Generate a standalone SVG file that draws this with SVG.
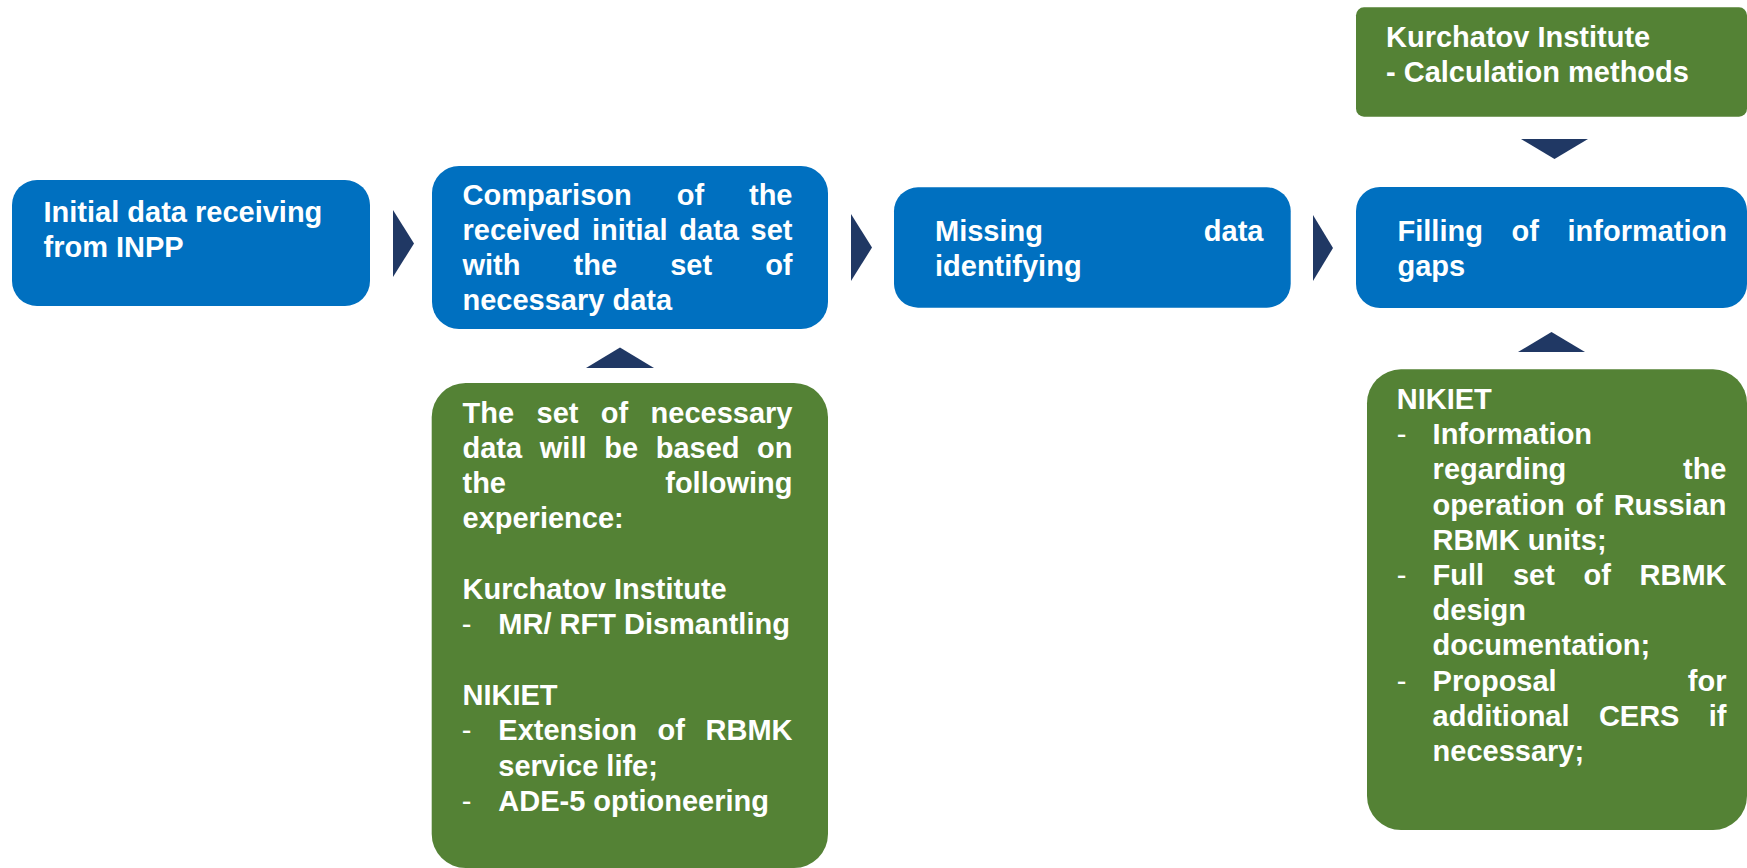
<svg xmlns="http://www.w3.org/2000/svg" width="1747" height="868" viewBox="0 0 1747 868">
<defs>
<style>
.blue{fill:#0070C0;}
.green{fill:#548235;}
.tri{fill:#203864;}
text{font-family:"Liberation Sans",Arial,Helvetica,sans-serif;font-size:29px;font-weight:bold;fill:#FFFFFF;}
.dash{font-weight:normal;}
.e{text-anchor:end;}
</style>
</defs>
<rect width="1747" height="868" fill="#FFFFFF"/>

<g id="connectors">
<polygon class="tri" points="393,210 393,277 414,243.5"/>
<polygon class="tri" points="851,214 851,281 872,247.5"/>
<polygon class="tri" points="1313,215 1313,281 1333,248"/>
<polygon class="tri" points="1521,139 1588,139 1554.5,159"/>
<polygon class="tri" points="1518,352 1585,352 1551.5,332"/>
<polygon class="tri" points="586,368 654,368 620,347.5"/>
</g>

<g id="node-initial">
<rect class="blue" x="12" y="180" width="358" height="126" rx="25" ry="25"/>
<text x="43.5" y="221.7">Initial data receiving</text>
<text x="43.5" y="256.7">from INPP</text>
</g>

<g id="node-comparison">
<rect class="blue" x="432" y="166" width="396" height="163" rx="27" ry="27"/>
<text x="462.5" y="205">Comparison</text>
<text x="676.7" y="205">of</text>
<text class="e" x="792.5" y="205">the</text>
<text x="462.5" y="240">received</text>
<text x="591.9" y="240">initial</text>
<text x="679.3" y="240">data</text>
<text class="e" x="792.5" y="240">set</text>
<text x="462.5" y="275">with</text>
<text x="573.6" y="275">the</text>
<text x="670.2" y="275">set</text>
<text class="e" x="792.5" y="275">of</text>
<text x="462.5" y="310">necessary data</text>
</g>

<g id="node-missing">
<rect class="blue" x="894" y="187.3" width="396.7" height="120.4" rx="24" ry="24"/>
<text x="935" y="240.7">Missing</text>
<text class="e" x="1263.5" y="240.7">data</text>
<text x="935" y="275.7">identifying</text>
</g>

<g id="node-filling">
<rect class="blue" x="1356" y="187" width="391" height="121" rx="24" ry="24"/>
<text x="1397.5" y="240.7">Filling</text>
<text x="1511.5" y="240.7">of</text>
<text class="e" x="1727" y="240.7">information</text>
<text x="1397.5" y="275.7">gaps</text>
</g>

<g id="node-kurchatov-calc">
<rect class="green" x="1356" y="7.3" width="391" height="109.4" rx="8" ry="8"/>
<text x="1386" y="46.7">Kurchatov Institute</text>
<text x="1386" y="81.7">- Calculation methods</text>
</g>

<g id="node-experience">
<rect class="green" x="431.7" y="383" width="396.3" height="485" rx="34" ry="34"/>
<text x="462.5" y="422.5">The</text>
<text x="536.5" y="422.5">set</text>
<text x="600.8" y="422.5">of</text>
<text class="e" x="792.5" y="422.5">necessary</text>
<text x="462.5" y="457.8">data</text>
<text x="539.8" y="457.8">will</text>
<text x="604.2" y="457.8">be</text>
<text x="655.7" y="457.8">based</text>
<text class="e" x="792.5" y="457.8">on</text>
<text x="462.5" y="493.1">the</text>
<text class="e" x="792.5" y="493.1">following</text>
<text x="462.5" y="528.4">experience:</text>
<text x="462.5" y="599">Kurchatov Institute</text>
<text class="dash" x="461.7" y="634.3">-</text>
<text x="498.3" y="634.3">MR/ RFT Dismantling</text>
<text x="462.5" y="704.9">NIKIET</text>
<text class="dash" x="461.7" y="740.2">-</text>
<text x="498.3" y="740.2">Extension</text>
<text x="657.5" y="740.2">of</text>
<text class="e" x="792.5" y="740.2">RBMK</text>
<text x="498.3" y="775.5">service life;</text>
<text class="dash" x="461.7" y="810.8">-</text>
<text x="498.3" y="810.8">ADE-5 optioneering</text>
</g>

<g id="node-nikiet">
<rect class="green" x="1367" y="369.3" width="380" height="460.7" rx="34" ry="34"/>
<text x="1396.7" y="409">NIKIET</text>
<text class="dash" x="1396.7" y="444.2">-</text>
<text x="1432.6" y="444.2">Information</text>
<text x="1432.6" y="479.4">regarding</text>
<text class="e" x="1726.5" y="479.4">the</text>
<text x="1432.6" y="514.6">operation</text>
<text x="1575.5" y="514.6">of</text>
<text class="e" x="1726.5" y="514.6">Russian</text>
<text x="1432.6" y="549.8">RBMK units;</text>
<text class="dash" x="1396.7" y="585">-</text>
<text x="1432.6" y="585">Full</text>
<text x="1512.9" y="585">set</text>
<text x="1583.5" y="585">of</text>
<text class="e" x="1726.5" y="585">RBMK</text>
<text x="1432.6" y="620.2">design</text>
<text x="1432.6" y="655.4">documentation;</text>
<text class="dash" x="1396.7" y="690.6">-</text>
<text x="1432.6" y="690.6">Proposal</text>
<text class="e" x="1726.5" y="690.6">for</text>
<text x="1432.6" y="725.8">additional</text>
<text x="1598.9" y="725.8">CERS</text>
<text class="e" x="1726.5" y="725.8">if</text>
<text x="1432.6" y="761">necessary;</text>
</g>
</svg>
